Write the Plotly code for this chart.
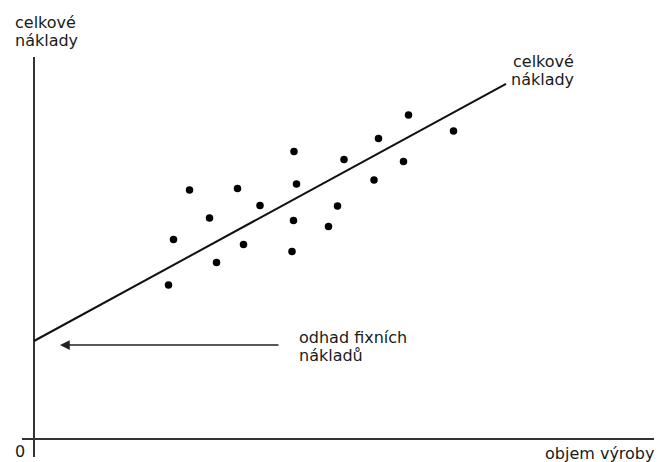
import plotly.graph_objects as go

# Observed points: production volume vs. total costs (arbitrary units)
volume = [74.9, 83.9, 68.9, 52.0, 62.0, 73.9, 31.1, 40.7, 52.5, 68.0,
          45.2, 60.7, 35.1, 51.9, 58.9, 27.9, 41.9, 51.6, 36.5, 26.9]
costs = [64.8, 61.6, 60.1, 57.5, 55.9, 55.5, 49.8, 50.1, 51.0, 51.8,
         46.7, 46.6, 44.2, 43.7, 42.5, 39.9, 38.9, 37.5, 35.3, 30.8]

# Fitted total-cost line
fixed_cost = 19.6       # intercept = estimate of fixed costs
unit_cost = 0.545       # slope
line_x = [0, 94.4]
line_y = [fixed_cost + unit_cost * x for x in line_x]

FONT = "DejaVu Sans"
TXT = "#1a1a1a"

# layout geometry (figure pixels)
W, H = 654, 454
ML, MR, MT, MB = 14, 2, 49, 5
PW, PH = W - ML - MR, H - MT - MB


def paper(px, py):
    """page pixel (body has 8px margin) -> paper coordinates"""
    fx, fy = px - 8, py - 8
    return (fx - ML) / PW, (MT + PH - fy) / PH


fig = go.Figure()
fig.add_trace(go.Scatter(x=line_x, y=line_y, mode="lines",
                         line=dict(color="#111", width=2), hoverinfo="skip"))
fig.add_trace(go.Scatter(x=volume, y=costs, mode="markers",
                         marker=dict(color="#000", size=7.5)))

ann = []


def label(px, py, text, xanchor="left"):
    x, y = paper(px, py)
    ann.append(dict(x=x, y=y, xref="paper", yref="paper", text=text,
                    showarrow=False, xanchor=xanchor, yanchor="middle",
                    font=dict(family=FONT, size=16, color=TXT)))


label(13, 22, "celkové")
label(13, 40, "náklady")
label(511, 61, "celkové")
label(509, 79, "náklady")
label(297, 337, "odhad fixních")
label(297, 355, "nákladů")
label(543, 453, "objem výroby")
label(20, 451, "0", xanchor="center")

# arrow pointing to the intercept (fixed costs)
ann.append(dict(x=5.2, y=18.8, ax=49.2, ay=18.8, xref="x", yref="y",
                axref="x", ayref="y", text="", showarrow=True,
                arrowhead=2, arrowsize=1.3, arrowwidth=1.5, arrowcolor="#222"))

fig.update_layout(
    width=W, height=H,
    margin=dict(l=ML, r=MR, t=MT, b=MB),
    paper_bgcolor="white", plot_bgcolor="white",
    showlegend=False,
    annotations=ann,
    xaxis=dict(range=[-2.4, 125.2], showgrid=False, showticklabels=False,
               ticks="", zeroline=True, zerolinecolor="#333", zerolinewidth=2),
    yaxis=dict(range=[-3.6, 76.4], showgrid=False, showticklabels=False,
               ticks="", zeroline=True, zerolinecolor="#333", zerolinewidth=2),
)

fig.write_html("out.html")
